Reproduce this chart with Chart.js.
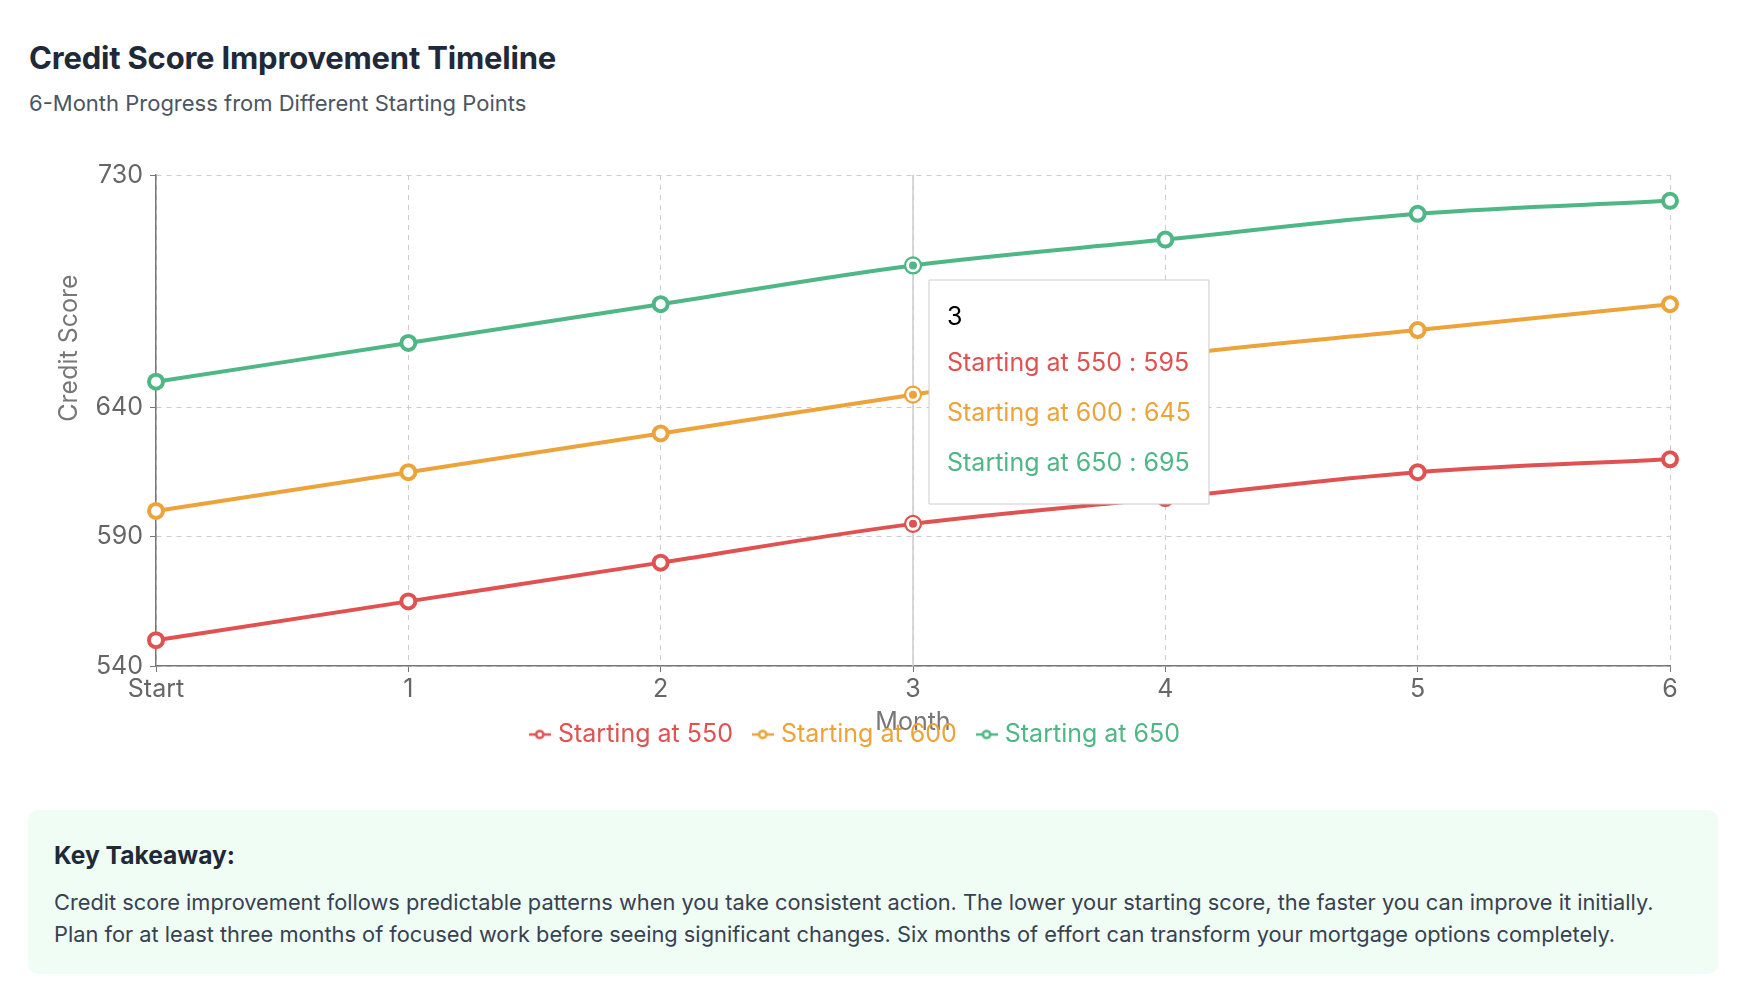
<!DOCTYPE html>
<html>
<head>
<meta charset="utf-8">
<script src="https://cdn.jsdelivr.net/npm/chart.js@4.4.1/dist/chart.umd.min.js"></script>
<style>
  body { margin: 0; background: #fff; font-family: Inter, sans-serif; width: 1750px; height: 1006px; position: relative; overflow: hidden; }
  h1 { position: absolute; left: 29px; top: 39px; margin: 0; font-size: 31px; line-height: 38px; font-weight: 700; color: #1f2937; letter-spacing: -0.2px; }
  .sub { position: absolute; left: 29px; top: 90px; margin: 0; font-size: 22px; line-height: 26px; color: #4b5563; }
  .chart-wrap { position: absolute; left: 0; top: 130px; width: 1750px; height: 640px; }
  .note { position: absolute; left: 28px; top: 810px; width: 1690px; height: 164px; box-sizing: border-box; background: #f0fdf4; border-radius: 10px; padding: 30px 26px; }
  .note h3 { margin: 0 0 16px 0; font-size: 24.6px; line-height: 30px; font-weight: 700; color: #1f2937; }
  .note p { margin: 0; font-size: 21.8px; line-height: 32px; color: #374151; white-space: nowrap; }
</style>
</head>
<body>
<h1>Credit Score Improvement Timeline</h1>
<div class="sub">6-Month Progress from Different Starting Points</div>
<div class="chart-wrap"><canvas id="scoreChart"></canvas></div>
<div class="note">
  <h3>Key Takeaway:</h3>
  <p>Credit score improvement follows predictable patterns when you take consistent action. The lower your starting score, the faster you can improve it initially.<br>Plan for at least three months of focused work before seeing significant changes. Six months of effort can transform your mortgage options completely.</p>
</div>
<script>
const months = ['Start', '1', '2', '3', '4', '5', '6'];
const from550 = [550, 565, 580, 595, 605, 615, 620];
const from600 = [600, 615, 630, 645, 660, 670, 680];
const from650 = [650, 665, 680, 695, 705, 715, 720];
const yTicks = [540, 590, 640, 730];
const seriesNames = ['Starting at 550', 'Starting at 600', 'Starting at 650'];
const seriesColors = ['#e05252', '#eba33a', '#4fb685'];
const activeMonth = 3;

const FONT = 'Inter';

function legendIcon(color) {
    const c = document.createElement('canvas');
    c.width = 22;
    c.height = 12;
    const g = c.getContext('2d');
    g.strokeStyle = color;
    g.lineWidth = 2.5;
    g.beginPath();
    g.moveTo(0, 6);
    g.lineTo(22, 6);
    g.stroke();
    g.fillStyle = '#fff';
    g.beginPath();
    g.arc(11, 6, 3.6, 0, Math.PI * 2);
    g.fill();
    g.stroke();
    return c;
}
const icons = seriesColors.map(legendIcon);

function makeDataset(i, values) {
    const c = seriesColors[i];
    return {
        label: seriesNames[i],
        data: values,
        borderColor: c,
        backgroundColor: c,
        borderWidth: 4,
        cubicInterpolationMode: 'monotone',
        pointRadius: 7,
        pointBorderWidth: 4,
        pointBackgroundColor: '#fff',
        pointBorderColor: c,
        pointHoverRadius: 5.5,
        pointHoverBorderWidth: 3,
        pointHoverBackgroundColor: c,
        pointHoverBorderColor: '#fff'
    };
}

Chart.Tooltip.positioners.besidePoint = function(items) {
    if (!items.length) return false;
    const area = this.chart.chartArea;
    return { x: items[0].element.x + 16, y: area.top + 105 };
};

// grey cursor line under the hovered month
const cursorLine = {
    id: 'cursorLine',
    beforeDatasetsDraw(chart) {
        const act = chart.getActiveElements();
        if (!act.length) return;
        const { ctx, chartArea } = chart;
        const x = act[0].element.x;
        ctx.save();
        ctx.strokeStyle = '#cccccc';
        ctx.lineWidth = 1.5;
        ctx.beginPath();
        ctx.moveTo(x, chartArea.top);
        ctx.lineTo(x, chartArea.bottom);
        ctx.stroke();
        ctx.restore();
    },
    afterDatasetsDraw(chart) {
        const { ctx } = chart;
        chart.getActiveElements().forEach(a => {
            ctx.save();
            ctx.strokeStyle = seriesColors[a.datasetIndex];
            ctx.lineWidth = 2.2;
            ctx.beginPath();
            ctx.arc(a.element.x, a.element.y, 8, 0, Math.PI * 2);
            ctx.stroke();
            ctx.restore();
        });
    }
};

// y axis label sits above the middle, drawn by hand
const yLabel = {
    id: 'yLabel',
    afterDraw(chart) {
        const { ctx, chartArea } = chart;
        ctx.save();
        ctx.translate(chartArea.left - 87, chartArea.top + 173);
        ctx.rotate(-Math.PI / 2);
        ctx.font = '25px ' + FONT;
        ctx.fillStyle = '#777';
        ctx.textAlign = 'center';
        ctx.textBaseline = 'middle';
        ctx.fillText('Credit Score', 0, 0);
        ctx.restore();
    }
};

const gridStyle = { color: '#cccccc', tickColor: '#777', tickLength: 6, tickBorderDash: [], drawTicks: true };
const borderStyle = { color: '#777', width: 1.5, dash: [5, 5] };

const ctx = document.getElementById('scoreChart').getContext('2d');
const chart = new Chart(ctx, {
    type: 'line',
    data: {
        labels: months,
        datasets: [makeDataset(0, from550), makeDataset(1, from600), makeDataset(2, from650)]
    },
    options: {
        responsive: true,
        maintainAspectRatio: false,
        animation: false,
        events: [],
        layout: { padding: { left: 44, right: 80, top: 45, bottom: 13 } },
        scales: {
            x: {
                ticks: { font: { family: FONT, size: 25 }, color: '#666', padding: 2, maxRotation: 0, autoSkip: false },
                grid: gridStyle,
                border: borderStyle,
                title: {
                    display: true,
                    text: 'Month',
                    font: { family: FONT, size: 25 },
                    color: '#777',
                    padding: { top: 1, bottom: -39 }
                }
            },
            y: {
                min: 540,
                max: 730,
                afterBuildTicks: s => { s.ticks = yTicks.map(v => ({ value: v })); },
                afterFit: s => { s.width = 112; },
                ticks: { font: { family: FONT, size: 25 }, color: '#666', padding: 7 },
                grid: gridStyle,
                border: borderStyle
            }
        },
        plugins: {
            legend: {
                position: 'bottom',
                labels: {
                    font: { family: FONT, size: 25 },
                    usePointStyle: true,
                    pointStyleWidth: 11.5,
                    padding: 24,
                    generateLabels: c => Chart.defaults.plugins.legend.labels.generateLabels(c).map(l => ({
                        ...l,
                        pointStyle: icons[l.datasetIndex],
                        fontColor: seriesColors[l.datasetIndex]
                    }))
                }
            },
            tooltip: {
                position: 'besidePoint',
                xAlign: 'left',
                yAlign: 'top',
                caretSize: 0,
                caretPadding: 0,
                cornerRadius: 0,
                backgroundColor: '#fff',
                borderColor: '#cccccc',
                borderWidth: 1,
                titleColor: '#000',
                titleFont: { family: FONT, size: 25, weight: 'normal' },
                bodyFont: { family: FONT, size: 25 },
                padding: { top: 22, left: 18, right: 18, bottom: 26 },
                titleMarginBottom: 16,
                bodySpacing: 20,
                displayColors: false,
                callbacks: {
                    label: c => c.dataset.label + ' : ' + c.parsed.y,
                    labelTextColor: c => seriesColors[c.datasetIndex]
                }
            }
        }
    },
    plugins: [cursorLine, yLabel]
});

const active = [0, 1, 2].map(i => ({ datasetIndex: i, index: activeMonth }));
chart.setActiveElements(active);
chart.tooltip.setActiveElements(active, { x: 0, y: 0 });
chart.update();
</script>
</body>
</html>
